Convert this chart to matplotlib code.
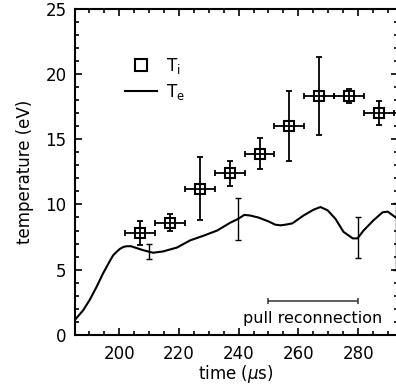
import numpy as np
import matplotlib
matplotlib.use('Agg')
import matplotlib.pyplot as plt
from matplotlib.ticker import MultipleLocator
from matplotlib.lines import Line2D

plt.rcParams['font.family'] = ['DejaVu Sans']
plt.rcParams['mathtext.fontset'] = 'dejavusans'

# ion temperature (squares)
ti_t = [207, 217, 227, 237, 247, 257, 267, 277, 287]
ti_val = [7.8, 8.6, 11.2, 12.4, 13.9, 16.0, 18.3, 18.3, 17.0]
ti_err = [0.9, 0.65, 2.4, 0.95, 1.15, 2.65, 3.0, 0.55, 0.95]
ti_terr = [5, 5, 5, 5, 5, 5, 5, 5, 5]

# electron temperature (curve)
te_t = [185.2, 188, 190.2, 192.5, 194.6, 196.5, 198, 199.3, 200.3, 201.5, 202.6,
        204, 205.3, 208, 211.4, 214.7, 219.4, 223.8, 228.2, 232.8, 237.2,
        239.9, 241.9, 243.9, 246.6, 250, 252.3, 254, 255.7, 258, 261.7,
        265.1, 267.4, 269.8, 272.4, 275.1, 278.2, 279.8, 281.8, 285.2,
        288.2, 289.9, 292.6, 294]
te_val = [1.15, 1.9, 2.7, 3.7, 4.7, 5.5, 6.1, 6.4, 6.6, 6.75, 6.8,
          6.8, 6.7, 6.5, 6.3, 6.4, 6.7, 7.25, 7.6, 8.0, 8.6,
          8.9, 9.2, 9.15, 9.0, 8.7, 8.45, 8.4, 8.45, 8.55, 9.15,
          9.6, 9.8, 9.55, 8.9, 7.9, 7.4, 7.4, 8.0, 8.8,
          9.4, 9.45, 9.0, 8.8]

# error bars on Te
te_bar_t = [210, 239.9, 279.8, 292.6]
te_bar_val = [6.4, 8.9, 7.45, 7.55]
te_bar_err = [0.6, 1.6, 1.55, 2.55]

fig = plt.figure(figsize=(3.96, 3.90), dpi=100)
ax = fig.add_axes([0.189, 0.141, 0.815, 0.837])

ax.plot(te_t, te_val, color='black', lw=1.5)
ax.errorbar(te_bar_t, te_bar_val, yerr=te_bar_err, fmt='none', ecolor='black',
            elinewidth=1.0, capsize=2.2, capthick=1.0)

ax.plot(ti_t, ti_val, 's', ms=7, mfc='white', mec='black', mew=1.5, ls='none')
ax.errorbar(ti_t, ti_val, xerr=ti_terr, yerr=ti_err, fmt='none', ecolor='black',
            elinewidth=1.3, capsize=2.2, capthick=1.3)

# pull reconnection interval
ax.errorbar([265], [2.6], xerr=[15], fmt='none', ecolor='#333333',
            elinewidth=1.1, capsize=2.5, capthick=1.1)
ax.text(264.7, 1.3, 'pull reconnection', ha='center', va='center', fontsize=11.5)

ax.set_xlim(185.2, 293.2)
ax.set_ylim(0, 25)
ax.xaxis.set_major_locator(MultipleLocator(20))
ax.xaxis.set_minor_locator(MultipleLocator(5))
ax.yaxis.set_major_locator(MultipleLocator(5))
ax.yaxis.set_minor_locator(MultipleLocator(1))
ax.tick_params(which='both', direction='in', top=True, right=True, labelsize=12, width=1.2)
ax.tick_params(which='major', length=5)
ax.tick_params(axis='x', which='major', pad=7)
ax.tick_params(axis='y', which='major', pad=6)
ax.tick_params(which='minor', length=3)
for s in ax.spines.values():
    s.set_linewidth(1.5)

ax.set_xlabel(r'time ($\mathit{\mu}$s)', fontsize=12, labelpad=0)
ax.set_ylabel('temperature (eV)', fontsize=12, labelpad=8)

handles = [Line2D([], [], marker='s', ms=9, mfc='white', mec='black', mew=1.5, ls='none'),
           Line2D([], [], color='black', lw=1.5)]
ax.legend(handles, [r'T$_\mathregular{i}$', r'T$_\mathregular{e}$'], loc='upper left',
          bbox_to_anchor=(0.11, 0.9), frameon=False, fontsize=12, handlelength=1.9,
          handletextpad=0.55, labelspacing=0.35)

fig.savefig('out.png', dpi=100)
